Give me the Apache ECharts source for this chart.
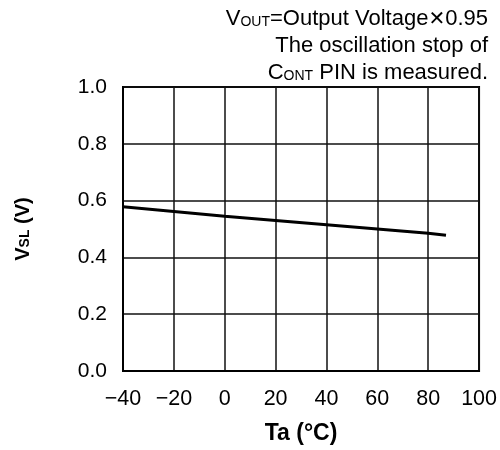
<!DOCTYPE html>
<html><head><meta charset="utf-8">
<script src="https://cdn.jsdelivr.net/npm/echarts@6/dist/echarts.min.js"></script>
<style>html,body{margin:0;padding:0;background:#fff}#c{width:500px;height:450px}</style>
</head><body><div id="c"></div>
<script>
// Data
const temps = [-40, -20, 0, 20, 40, 60, 80, 87];
const vsl   = [0.578, 0.562, 0.545, 0.530, 0.515, 0.500, 0.485, 0.478];
const xTickMin = -40, xTickMax = 100, xTickStep = 20;
const yTickMin = 0, yTickMax = 1.0, yTickStep = 0.2;
const noteLines = [
  'V{s|OUT}=Output Voltage{x|✕}0.95',
  'The oscillation stop of',
  'C{s|ONT} PIN is measured.'
];

const FONT = '"Liberation Sans", Arial, Helvetica, sans-serif';
const chart = echarts.init(document.getElementById('c'), null, {renderer: 'canvas'});
const richBase = {
  s: {fontSize: 14, fontFamily: FONT, color: '#000', verticalAlign: 'bottom', padding: [0, 0, 1, 0]},
  x: {fontSize: 20, fontFamily: '"DejaVu Sans", sans-serif', color: '#000', verticalAlign: 'bottom'}
};
chart.setOption({
  animation: false,
  backgroundColor: '#fff',
  grid: {left: 123, right: 20, top: 87, bottom: 78, show: true, borderColor: '#000', borderWidth: 2, backgroundColor: 'transparent'},
  xAxis: {
    type: 'value', min: xTickMin, max: xTickMax, interval: xTickStep,
    name: 'Ta (°C)', nameLocation: 'middle', nameGap: 51,
    nameTextStyle: {fontFamily: FONT, fontSize: 23, fontWeight: 'bold', color: '#000'},
    axisLine: {show: true, onZero: false, lineStyle: {color: '#000', width: 2}},
    axisTick: {show: false},
    axisLabel: {fontFamily: FONT, fontSize: 21.5, color: '#000', margin: 17,
      formatter: v => String(v).replace('-', '\u2212')},
    splitLine: {show: true, lineStyle: {color: '#111', width: 1.5}}
  },
  yAxis: {
    type: 'value', min: yTickMin, max: yTickMax, interval: yTickStep,
    name: 'V{s|SL} (V)', nameLocation: 'middle', nameGap: 90, nameRotate: 90,
    nameTextStyle: {fontFamily: FONT, fontSize: 20, fontWeight: 'bold', color: '#000',
      rich: {s: {fontFamily: FONT, fontSize: 14, fontWeight: 'bold', color: '#000', verticalAlign: 'bottom', padding: [0, 0, 1, 0]}}},
    axisLine: {show: true, onZero: false, lineStyle: {color: '#000', width: 2}},
    axisTick: {show: false},
    axisLabel: {fontFamily: FONT, fontSize: 21, color: '#000', margin: 16,
      formatter: v => v.toFixed(1)},
    splitLine: {show: true, lineStyle: {color: '#111', width: 1.5}}
  },
  series: [{
    type: 'line', data: temps.map((t, i) => [t, vsl[i]]),
    showSymbol: false, symbol: 'none',
    lineStyle: {color: '#000', width: 3}
  }],
  graphic: noteLines.map((t, i) => ({
    type: 'text', right: 12, top: 8 + i * 27,
    style: {text: t, fontFamily: FONT, fontSize: 22, fill: '#000', rich: richBase}
  }))
});
</script></body></html>
